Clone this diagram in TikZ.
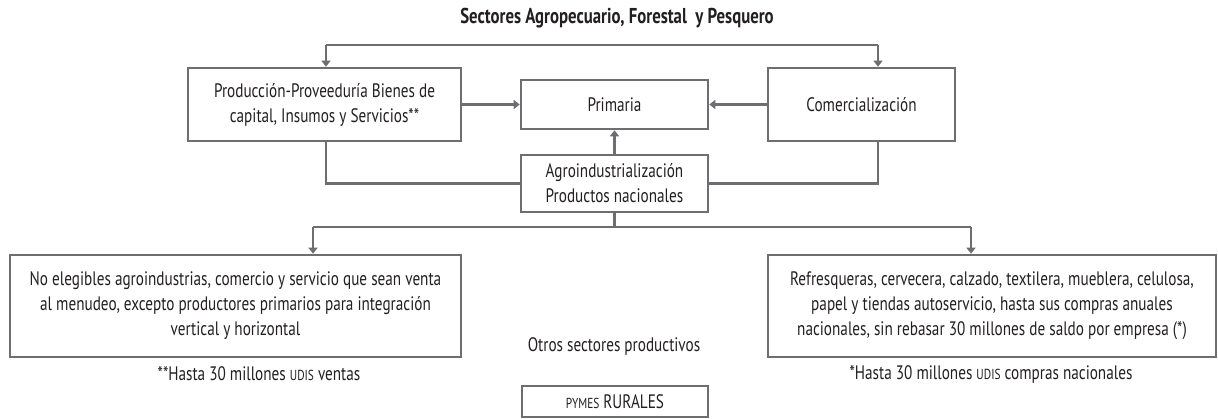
\documentclass[tikz,border=0pt]{standalone}
\usepackage{fontspec}
\setmainfont[FakeStretch=0.78]{PT Sans}
\usetikzlibrary{arrows.meta}
\definecolor{ln}{HTML}{6E6E72}
\definecolor{tx}{HTML}{231F20}
\newcommand{\smc}[1]{{\fontsize{14.5}{25}\selectfont #1}}
\begin{document}
\begin{tikzpicture}[x=1pt,y=-1pt,
 box/.style={draw=ln,line width=2.6pt,inner sep=0pt,align=center,text=tx,font=\fontsize{19.5}{25}\selectfont},
 conn/.style={draw=ln,line width=2.6pt},
 arr/.style={conn,-{Triangle[width=9pt,length=6pt]}},
 lbl/.style={text=tx,font=\fontsize{19.5}{25}\selectfont,inner sep=0pt}]
\useasboundingbox (0,0) rectangle (1218,419);
\node[lbl,font=\bfseries\fontsize{21.5}{25}\selectfont] (title) at (617,18) {Sectores Agropecuario, Forestal\ \ y Pesquero};
\node[box,minimum width=273pt,minimum height=73pt] (prod) at (324.5,104.5) {Producción-Proveeduría Bienes de\\capital, Insumos y Servicios**};
\node[box,minimum width=187pt,minimum height=49pt] (prim) at (614.5,104.5) {Primaria};
\node[box,minimum width=187pt,minimum height=73pt] (comerc) at (861.5,104.5) {Comercialización};
\node[box,minimum width=187pt,minimum height=57pt] (agro) at (614.5,183.5) {Agroindustrialización\\Productos nacionales};
\node[box,minimum width=451pt,minimum height=102pt] (left) at (235.5,306) {No elegibles agroindustrias, comercio y servicio que sean venta\\al menudeo, excepto productores primarios para integración\\vertical y horizontal};
\node[box,minimum width=448pt,minimum height=102pt] (right) at (992,306) {Refresqueras, cervecera, calzado, textilera, mueblera, celulosa,\\papel y tiendas autoservicio, hasta sus compras anuales\\nacionales, sin rebasar 30 millones de saldo por empresa (*)};
\node[lbl] (fnl) at (259,374) {**Hasta 30 millones \smc{UDIS} ventas};
\node[lbl] (fnr) at (991,374) {*Hasta 30 millones \smc{UDIS} compras nacionales};
\node[lbl] (otros) at (614,347) {Otros sectores productivos};
\node[box,minimum width=186pt,minimum height=31pt] (pymes) at (615,401.5) {\smc{PYMES} RURALES};
\coordinate (tl) at (326,45);
\coordinate (tr) at (878,45);
\draw[conn] (tl) -- (tr);
\draw[arr] (tl) -- (tl |- prod.north);
\draw[arr] (tr) -- (tr |- comerc.north);
\draw[arr] (prod.east) -- (prim.west);
\draw[arr] (comerc.west) -- (prim.east);
\draw[arr] (agro.north) -- (prim.south);
\draw[conn] (prod.south -| tl) |- (agro.west);
\draw[conn] (comerc.south -| tr) |- (agro.east);
\coordinate (bl) at (313,227);
\coordinate (br) at (971,227);
\draw[conn] (agro.south) -- (agro.south |- bl);
\draw[conn] (bl) -- (br);
\draw[arr] (bl) -- (bl |- left.north);
\draw[arr] (br) -- (br |- right.north);
\end{tikzpicture}
\end{document}
